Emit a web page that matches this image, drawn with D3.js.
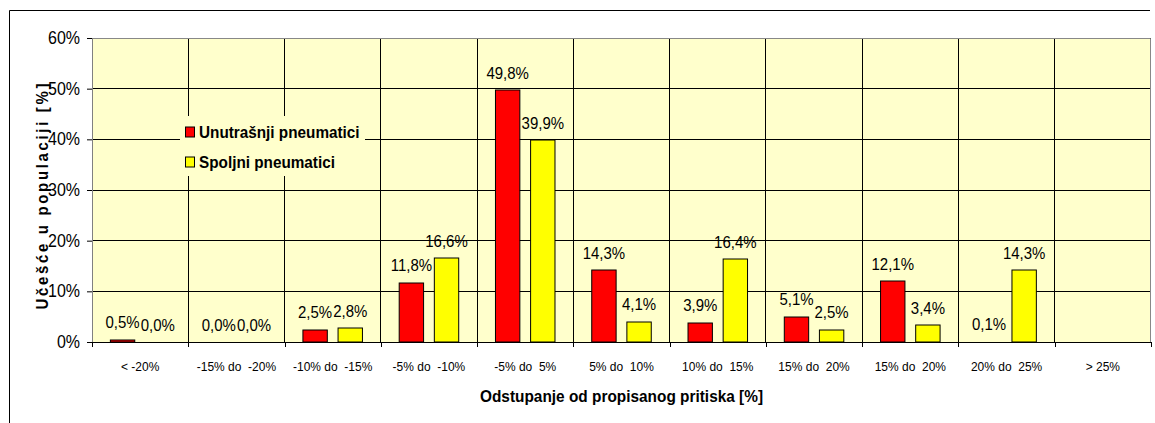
<!DOCTYPE html>
<html>
<head>
<meta charset="utf-8">
<script src="https://cdn.jsdelivr.net/npm/d3@7/dist/d3.min.js"></script>
<style>
  html, body { margin: 0; padding: 0; background: #fff; }
  svg { display: block; font-family: "Liberation Sans", Arial, sans-serif; }
  text { white-space: pre; }
</style>
</head>
<body>
<svg id="chart" width="1155" height="423"></svg>
<script>
// Pressure deviation categories
const categories = ["< -20%", "-15% do  -20%", "-10% do  -15%", "-5% do  -10%", "-5% do  5%",
  "5% do  10%", "10% do  15%", "15% do  20%", "15% do  20% ", "20% do  25%", "> 25%"];
// Share of population per category [%]; null = no measurement
const innerTyres = [0.5, 0.0, 2.5, 11.8, 49.8, 14.3, 3.9, 5.1, 12.1, 0.1, null];
const outerTyres = [0.0, 0.0, 2.8, 16.6, 39.9, 4.1, 16.4, 2.5, 3.4, 14.3, null];
const seriesNames = ["Unutrašnji pneumatici", "Spoljni pneumatici"];
const yTicks = [0, 10, 20, 30, 40, 50, 60];

const colors = ["#ff0000", "#ffff00"];
const SY = 1.12; // vertical stretch of glyphs

const svg = d3.select("#chart");
const plot = { left: 92, right: 1151, top: 38, bottom: 342 };

const x = d3.scaleBand().domain(categories).range([plot.left, plot.right]).paddingInner(0).paddingOuter(0);
const xs = d3.scaleBand().domain([0, 1]).range([0, x.bandwidth()]).paddingInner(0.306).paddingOuter(0.523);
const y = d3.scaleLinear().domain([0, 60]).range([plot.bottom, plot.top]);

// outer chart frame
svg.append("path").attr("d", "M9.5,423V10.5H1150").attr("fill", "none").attr("stroke", "#000");

// plot background
svg.append("rect").attr("x", plot.left).attr("y", plot.top)
  .attr("width", plot.right - plot.left).attr("height", plot.bottom - plot.top)
  .attr("fill", "#ffffcc");

// grid
const grid = svg.append("g").attr("stroke", "#000").attr("stroke-width", 1).attr("shape-rendering", "crispEdges");
yTicks.slice(1).forEach(t => grid.append("line")
  .attr("x1", plot.left).attr("x2", plot.right).attr("y1", y(t)).attr("y2", y(t)));
categories.slice(1).forEach(c => grid.append("line")
  .attr("x1", x(c)).attr("x2", x(c)).attr("y1", plot.top).attr("y2", plot.bottom));

// plot border (top/right) in grey
svg.append("path")
  .attr("d", `M${plot.left},${plot.top + 0.5}H${plot.right - 0.5}V${plot.bottom}`)
  .attr("fill", "none").attr("stroke", "#888");

// legend box hides grid behind it
const lg = svg.append("g").attr("transform", "translate(180,116)");
lg.append("rect").attr("width", 185).attr("height", 60).attr("fill", "#ffffcc");

// bars (heights truncated to whole pixels; sub-pixel bars are not drawn)
const series = [innerTyres, outerTyres];
series.forEach((vals, si) => {
  const g = svg.append("g");
  categories.forEach((c, i) => {
    const v = vals[i];
    if (v == null) return;
    const bx = x(c) + xs(si);
    const h = Math.floor(y(0) - y(v));
    if (h > 0) {
      g.append("rect")
        .attr("x", bx).attr("y", y(0) - h)
        .attr("width", xs.bandwidth()).attr("height", h)
        .attr("fill", colors[si]).attr("stroke", "#000").attr("stroke-width", 1);
    }
    g.append("text")
      .attr("transform", `translate(${bx + xs.bandwidth() / 2},${y(v) - 11}) scale(1,${SY})`)
      .attr("text-anchor", "middle").attr("font-size", 15).attr("fill", "#000")
      .text(d3.format(".1f")(v).replace(".", ",") + "%");
  });
});

// y axis
const yAxis = svg.append("g").attr("transform", `translate(${plot.left},0)`)
  .call(d3.axisLeft(y).tickValues(yTicks).tickSize(5).tickPadding(7).tickFormat(d => d + "%"));
yAxis.select(".domain").attr("stroke", "#808080").attr("d", `M0.5,${plot.top}V${plot.bottom}`);
yAxis.selectAll(".tick line").attr("stroke", "#000");
yAxis.selectAll(".tick text")
  .attr("font-size", 16).attr("font-family", "Liberation Sans, Arial, sans-serif").attr("fill", "#000")
  .attr("dy", null).attr("y", 0)
  .attr("transform", `translate(0,5.5) scale(1,${SY})`);

// x axis: labels centred in bands, tick marks on category boundaries
const xAxis = svg.append("g").attr("transform", `translate(0,${plot.bottom})`)
  .call(d3.axisBottom(x).tickSize(0).tickPadding(0));
xAxis.select(".domain").attr("stroke", "#000").attr("d", `M${plot.left},0.5H${plot.right}`);
xAxis.selectAll(".tick text")
  .attr("font-size", 12).attr("font-family", "Liberation Sans, Arial, sans-serif").attr("fill", "#000")
  .attr("dy", null).attr("y", 0)
  .attr("transform", `translate(0,28.5) scale(1,${SY})`)
  .text(d => d.trim());
const bounds = categories.map(c => x(c)).concat([plot.right]);
xAxis.append("g").selectAll("line").data(bounds).join("line")
  .attr("x1", d => Math.round(d) + 0.5).attr("x2", d => Math.round(d) + 0.5)
  .attr("y1", 0).attr("y2", 5).attr("stroke", "#000");

// axis titles
svg.append("text")
  .attr("transform", `translate(${(plot.left + plot.right) / 2},402) scale(1,${SY})`)
  .attr("text-anchor", "middle").attr("font-size", 15.4).attr("font-weight", "bold")
  .text("Odstupanje od propisanog pritiska [%]");
svg.append("text")
  .attr("transform", `translate(48,196.5) rotate(-90) scale(1,${SY})`)
  .attr("text-anchor", "middle").attr("font-size", 15).attr("font-weight", "bold")
  .attr("textLength", 226).attr("lengthAdjust", "spacing")
  .text("Učešće u populaciji [%]");

// legend entries
seriesNames.forEach((name, i) => {
  const row = lg.append("g").attr("transform", `translate(5,${10.5 + i * 30})`);
  row.append("rect").attr("x", 0.5).attr("y", 0.5).attr("width", 9).attr("height", 10)
    .attr("fill", colors[i]).attr("stroke", "#000");
  row.append("text")
    .attr("transform", `translate(14,11.5) scale(1,${SY})`)
    .attr("font-size", 15.3).attr("font-weight", "bold").text(name);
});
</script>
</body>
</html>
